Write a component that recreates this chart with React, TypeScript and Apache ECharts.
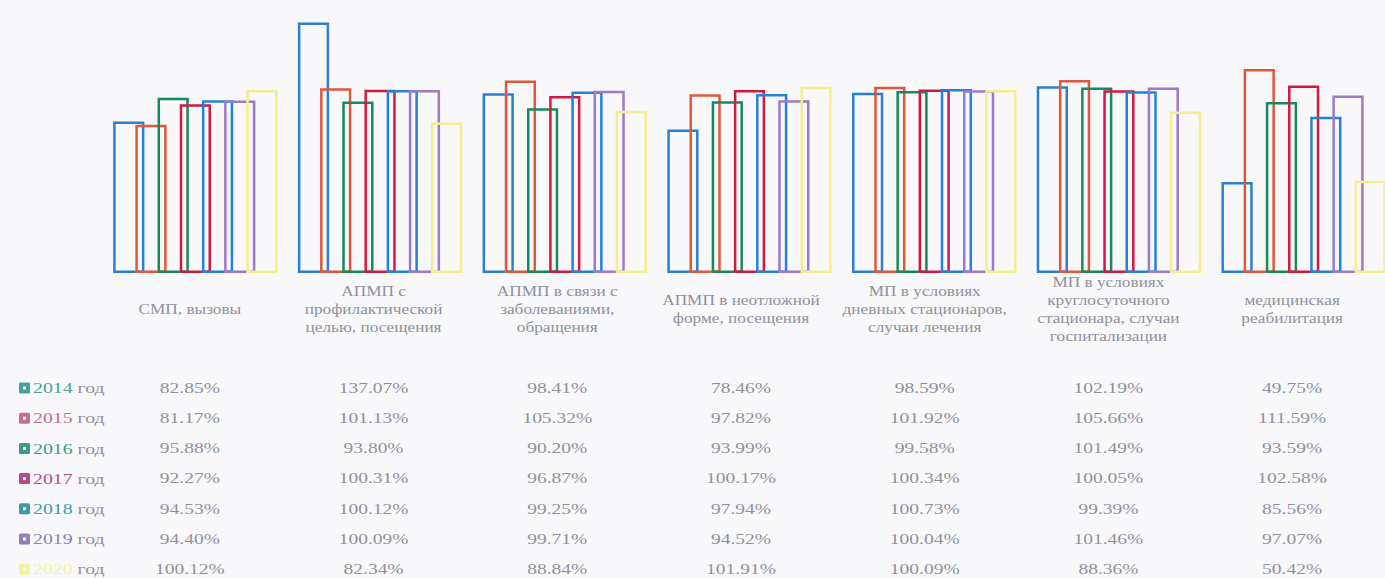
import React, { useEffect, useRef } from "react";
import * as echarts from "echarts";

const categories = [
  "СМП, вызовы",
  "АПМП с\nпрофилактической\nцелью, посещения",
  "АПМП в связи с\nзаболеваниями,\nобращения",
  "АПМП в неотложной\nформе, посещения",
  "МП в условиях\nдневных стационаров,\nслучаи лечения",
  "МП в условиях\nкруглосуточного\nстационара, случаи\nгоспитализации",
  "медицинская\nреабилитация",
];

const years = ["2014", "2015", "2016", "2017", "2018", "2019", "2020"];

const v2014 = [82.85, 137.07, 98.41, 78.46, 98.59, 102.19, 49.75];
const v2015 = [81.17, 101.13, 105.32, 97.82, 101.92, 105.66, 111.59];
const v2016 = [95.88, 93.8, 90.2, 93.99, 99.58, 101.49, 93.59];
const v2017 = [92.27, 100.31, 96.87, 100.17, 100.34, 100.05, 102.58];
const v2018 = [94.53, 100.12, 99.25, 97.94, 100.73, 99.39, 85.56];
const v2019 = [94.4, 100.09, 99.71, 94.52, 100.04, 101.46, 97.07];
const v2020 = [100.12, 82.34, 88.84, 101.91, 100.09, 88.36, 50.42];

const seriesValues = [v2014, v2015, v2016, v2017, v2018, v2019, v2020];

const barColors = ["#2b7fd0", "#e0573a", "#17895a", "#d4193f", "#2282d6", "#9b7ac6", "#f4ef8e"];
const keyColors = ["#47a297", "#c0708d", "#3d9a87", "#b64a86", "#3b9aa6", "#8f80b8", "#f2f2a6"];

const FONT = "'Liberation Serif', 'Times New Roman', serif";
const GRAY = "#8f909c";
const FS = 15;
const BG = "#f8f8fa";

const W = 1396;
const H = 578;
const BASE_Y = 273;
const LABEL_Y = 309;
const ROW_Y0 = 388;
const ROW_STEP = 30.2;

export default function App() {
  const ref = useRef<HTMLDivElement>(null);

  useEffect(() => {
    if (!ref.current) return;
    const chart = echarts.init(ref.current, null, { renderer: "svg" });

    const fmt = (v: number) => v.toFixed(2) + "%";

    chart.setOption({
      animation: false,
      backgroundColor: BG,
      grid: [
        { left: 103, right: 0, top: 8, bottom: H - BASE_Y, containLabel: false },
        { left: 98, width: 1286, top: 8, bottom: H - BASE_Y, containLabel: false },
      ],
      xAxis: [
        {
          type: "category",
          gridIndex: 0,
          data: categories,
          axisLine: { show: false },
          axisTick: { show: false },
          axisLabel: { show: false },
        },
        {
          type: "category",
          gridIndex: 1,
          data: categories,
          axisLine: { show: false },
          axisTick: { show: false },
          axisLabel: { show: false },
        },
      ],
      yAxis: [
        { type: "value", gridIndex: 0, min: 0, max: 145, show: false, splitLine: { show: false } },
        { type: "value", gridIndex: 1, min: 0, max: 145, show: false, splitLine: { show: false } },
      ],
      series: seriesValues.map((vals, i) => ({
        type: "bar",
        name: years[i] + " год",
        data: vals,
        xAxisIndex: 0,
        yAxisIndex: 0,
        barGap: "-29%",
        barCategoryGap: "11%",
        itemStyle: {
          color: "rgba(0,0,0,0)",
          borderColor: barColors[i],
          borderWidth: 2.5,
        },
      })),
    });

    const colX = categories.map((c) => chart.convertToPixel({ xAxisIndex: 1 }, c) as number);

    const textEl = (x: number, y: number, text: string, align: string, sx: number, extra: any = {}) => ({
      type: "text",
      x,
      y,
      scaleX: sx,
      style: {
        text,
        align,
        verticalAlign: "middle",
        fontFamily: FONT,
        fontSize: FS,
        fill: GRAY,
        ...extra,
      },
    });

    const catLabels = categories.map((c, j) =>
      textEl(colX[j], LABEL_Y, c, "center", 1.15, { lineHeight: 18 })
    );

    const rowTexts: any[] = [];
    seriesValues.forEach((vals, i) => {
      const cy = ROW_Y0 + ROW_STEP * i;
      vals.forEach((v, j) => rowTexts.push(textEl(colX[j], cy, fmt(v), "center", 1.3)));
    });

    const legendGraphics = years.map((y, i) => {
      const cy = ROW_Y0 + ROW_STEP * i;
      return {
        type: "group",
        children: [
          {
            type: "rect",
            shape: { x: 19, y: cy - 5.5, width: 11, height: 11, r: 1.5 },
            style: { fill: keyColors[i] },
          },
          {
            type: "rect",
            shape: { x: 23, y: cy - 1.5, width: 3, height: 3 },
            style: { fill: BG },
          },
          textEl(33, cy, `{y|${y}}{g| год}`, "left", 1.32, {
            rich: {
              y: { fill: keyColors[i], fontFamily: FONT, fontSize: FS },
              g: { fill: GRAY, fontFamily: FONT, fontSize: FS },
            },
          }),
        ],
      };
    });

    chart.setOption({
      graphic: [...catLabels, ...rowTexts, ...legendGraphics],
    });

    return () => chart.dispose();
  }, []);

  return (
    <div
      style={{
        position: "absolute",
        left: 0,
        top: 0,
        width: 1385,
        height: H,
        overflow: "hidden",
        background: BG,
      }}
    >
      <div ref={ref} style={{ width: W, height: H }} />
    </div>
  );
}
